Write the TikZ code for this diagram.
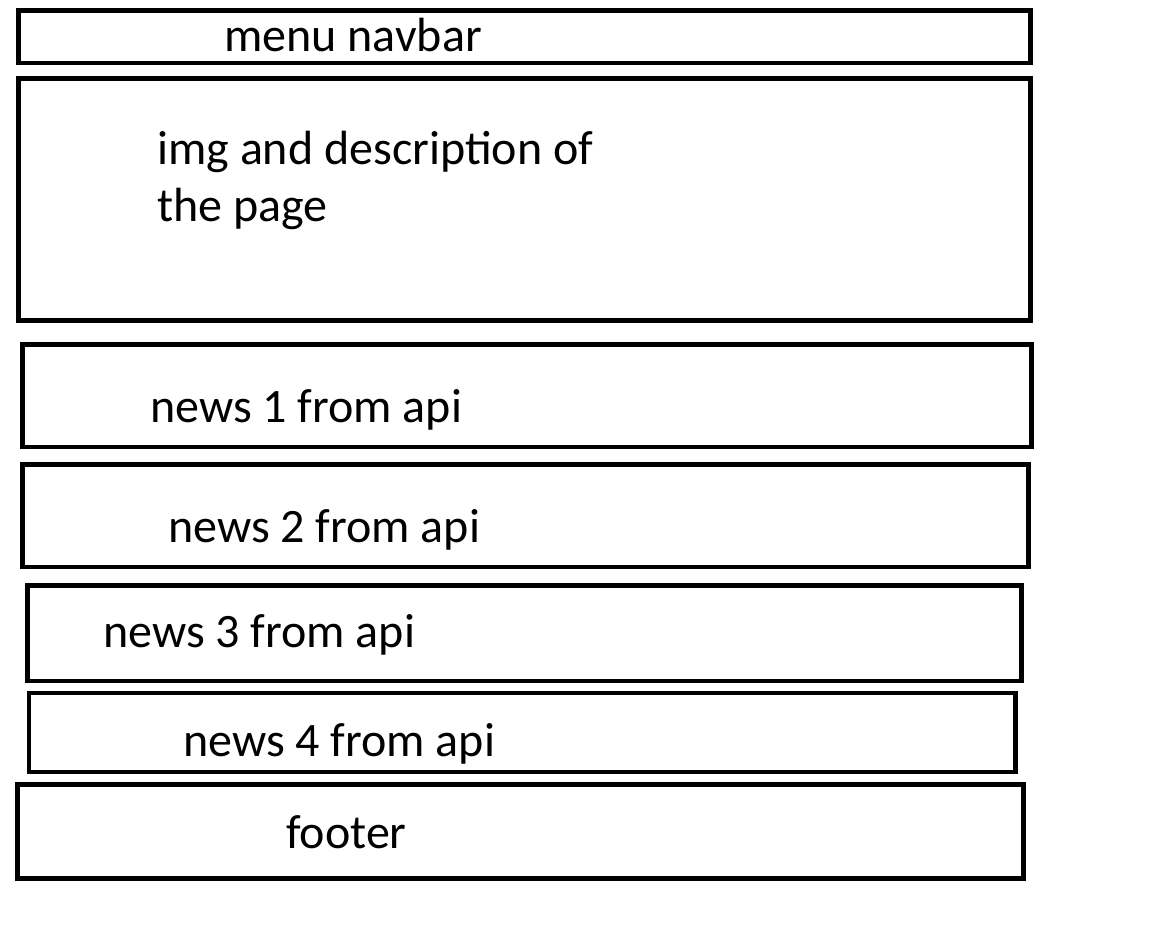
\documentclass[tikz,border=0pt]{standalone}
\usepackage{fontspec}
\setmainfont{Carlito}
\usetikzlibrary{positioning}

\begin{document}
\begin{tikzpicture}[x=1pt,y=-1pt]

\tikzset{wirebox/.style={draw,line width=4.5pt,shape=rectangle,inner sep=0pt,anchor=center},
         boxtext/.style={inner sep=0pt,anchor=base west,align=left,font=\fontsize{48}{58}\selectfont}}

\useasboundingbox (0,0) rectangle (1171,939);

% Draw the page sections
\node[wirebox,minimum width=1012pt,minimum height=52.5pt] (navbar) at (524.5,36.75) {};
\node[wirebox,minimum width=1012pt,minimum height=242pt] (hero) at (524.5,199.5) {};
\node[wirebox,minimum width=1009pt,minimum height=102.5pt] (news1) at (527,395.75) {};
\node[wirebox,minimum width=1006pt,minimum height=102.5pt] (news2) at (525.5,515.75) {};
\node[wirebox,minimum width=994pt,minimum height=95.5pt] (news3) at (524.5,633.25) {};
\node[wirebox,minimum width=986.5pt,minimum height=79pt] (news4) at (522.25,732.5) {};
\node[wirebox,minimum width=1006pt,minimum height=94pt] (footer) at (520.5,831.5) {};

% Texts of the sections
\node[boxtext] (navbartext) at (224,52) {menu navbar};
\node[boxtext] (herotext) at (157,222) {img and description of\\the page};
\node[boxtext] (news1text) at (150,422) {news 1 from api};
\node[boxtext] (news2text) at (168,542) {news 2 from api};
\node[boxtext] (news3text) at (103,647) {news 3 from api};
\node[boxtext] (news4text) at (183,756) {news 4 from api};
\node[boxtext] (footertext) at (286,848) {footer};

\end{tikzpicture}
\end{document}
